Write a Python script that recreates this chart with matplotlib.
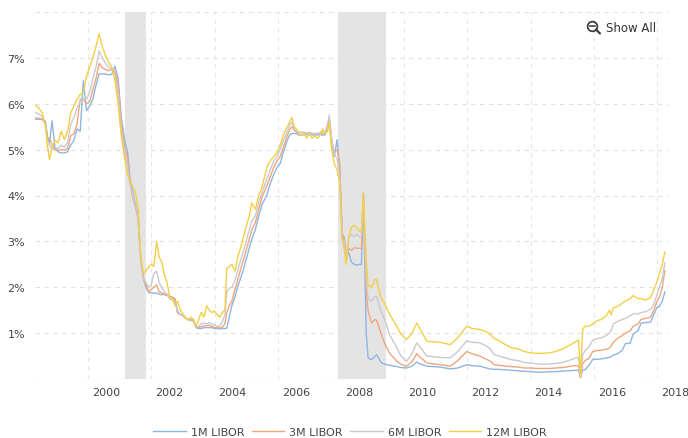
#!/usr/bin/env python3
"""
libor_history.py - 1M/3M/6M/12M USD LIBOR, 1998-2018, with US recessions shaded.

Dates are decimal years; rates in percent. One line per year block so the
series stay lined up with the dates.
"""

import matplotlib.pyplot as plt
from matplotlib.lines import Line2D
from matplotlib.transforms import ScaledTranslation

dates = [
    1998.32, 1998.42, 1998.55, 1998.65, 1998.72, 1998.78, 1998.86, 1998.95,
    1999.05, 1999.15, 1999.25, 1999.35, 1999.45, 1999.55, 1999.65, 1999.75, 1999.85, 1999.95,
    2000.05, 2000.15, 2000.25, 2000.35, 2000.45, 2000.55, 2000.65, 2000.75, 2000.85, 2000.95,
    2001.05, 2001.17, 2001.25, 2001.33, 2001.42, 2001.50, 2001.58, 2001.67, 2001.75, 2001.83, 2001.92,
    2002.00, 2002.08, 2002.17, 2002.25, 2002.33, 2002.42, 2002.50, 2002.58, 2002.67, 2002.75, 2002.83, 2002.92,
    2003.00, 2003.08, 2003.17, 2003.25, 2003.33, 2003.42, 2003.50, 2003.58, 2003.67, 2003.75, 2003.83, 2003.92,
    2004.00, 2004.08, 2004.17, 2004.25, 2004.33, 2004.39, 2004.47, 2004.55, 2004.65, 2004.75, 2004.83, 2004.92,
    2005.02, 2005.10, 2005.18, 2005.29, 2005.40, 2005.50, 2005.65, 2005.76, 2005.87, 2005.97,
    2006.08, 2006.18, 2006.30, 2006.39, 2006.45, 2006.52, 2006.60, 2006.67, 2006.75, 2006.83, 2006.92,
    2007.00, 2007.08, 2007.17, 2007.25, 2007.33, 2007.42, 2007.50, 2007.58, 2007.63, 2007.71, 2007.79, 2007.88, 2007.96,
    2008.04, 2008.10, 2008.17, 2008.25, 2008.33, 2008.42, 2008.50, 2008.58, 2008.65, 2008.71, 2008.80, 2008.86, 2008.97,
    2009.08, 2009.13, 2009.24, 2009.29, 2009.40, 2009.55, 2009.77, 2009.90,
    2010.08, 2010.25, 2010.40, 2010.50, 2010.72,
    2011.14, 2011.46, 2011.70, 2011.98,
    2012.15, 2012.40, 2012.60, 2012.72, 2012.85,
    2013.00, 2013.20, 2013.40, 2013.60, 2013.80,
    2014.00, 2014.20, 2014.40, 2014.60, 2014.80,
    2015.00, 2015.20, 2015.40, 2015.52, 2015.58, 2015.65, 2015.72, 2015.85, 2015.97,
    2016.10, 2016.25, 2016.40, 2016.50, 2016.55, 2016.62, 2016.75, 2016.90,
    2017.00, 2017.15, 2017.25, 2017.40, 2017.50, 2017.65, 2017.80, 2017.90,
    2018.00, 2018.08, 2018.17, 2018.25,
]

libor_1m = [
    5.66, 5.66, 5.66, 5.62, 5.25, 5.15, 5.63, 5.05,
    4.95, 4.93, 4.93, 4.95, 5.10, 5.20, 5.45, 5.40, 6.50, 5.85,
    5.95, 6.10, 6.40, 6.65, 6.65, 6.65, 6.63, 6.64, 6.82, 6.55,
    5.70, 5.15, 4.95, 4.35, 4.05, 3.80, 3.55, 2.60, 2.20, 2.00, 1.88,
    1.88, 1.87, 1.87, 1.85, 1.84, 1.84, 1.82, 1.80, 1.78, 1.75, 1.45, 1.40,
    1.38, 1.33, 1.30, 1.30, 1.30, 1.12, 1.10, 1.10, 1.12, 1.12, 1.12, 1.12,
    1.10, 1.10, 1.09, 1.10, 1.10, 1.11, 1.35, 1.60, 1.80, 2.05, 2.20, 2.40,
    2.65, 2.85, 3.05, 3.25, 3.55, 3.80, 4.00, 4.25, 4.45, 4.60,
    4.70, 4.95, 5.20, 5.33, 5.35, 5.35, 5.35, 5.32, 5.32, 5.32, 5.33,
    5.32, 5.32, 5.32, 5.32, 5.32, 5.32, 5.32, 5.50, 5.60, 5.10, 4.85, 5.22, 4.60,
    3.15, 3.10, 2.70, 2.75, 2.55, 2.50, 2.48, 2.50, 2.50, 4.05, 1.00, 0.46, 0.42,
    0.50, 0.53, 0.40, 0.35, 0.32, 0.30, 0.27, 0.25,
    0.24, 0.28, 0.37, 0.33, 0.28,
    0.26, 0.22, 0.24, 0.31,
    0.29, 0.28, 0.24, 0.22, 0.21,
    0.21, 0.20, 0.19, 0.18, 0.17,
    0.16, 0.15, 0.15, 0.16, 0.16,
    0.17, 0.18, 0.19, 0.19, 0.03, 0.20, 0.20, 0.30, 0.43,
    0.43, 0.44, 0.46, 0.47, 0.49, 0.52, 0.55, 0.62,
    0.77, 0.78, 0.98, 1.05, 1.22, 1.23, 1.24, 1.40,
    1.56, 1.58, 1.70, 1.90,
]

libor_3m = [
    5.69, 5.69, 5.66, 5.56, 5.25, 5.25, 5.10, 5.00,
    4.98, 5.00, 4.99, 5.02, 5.30, 5.35, 5.55, 6.10, 6.10, 6.00,
    6.05, 6.30, 6.55, 6.88, 6.78, 6.75, 6.72, 6.75, 6.70, 6.40,
    5.60, 5.00, 4.80, 4.25, 3.95, 3.75, 3.50, 2.55, 2.20, 2.05, 1.90,
    1.95, 2.00, 2.05, 1.90, 1.88, 1.85, 1.82, 1.80, 1.78, 1.72, 1.45, 1.40,
    1.38, 1.33, 1.30, 1.29, 1.28, 1.12, 1.12, 1.14, 1.16, 1.16, 1.17, 1.15,
    1.12, 1.12, 1.11, 1.13, 1.20, 1.45, 1.60, 1.70, 1.95, 2.20, 2.40, 2.60,
    2.85, 3.05, 3.25, 3.40, 3.70, 3.95, 4.20, 4.40, 4.60, 4.75,
    4.85, 5.05, 5.30, 5.45, 5.50, 5.42, 5.38, 5.37, 5.37, 5.37, 5.36,
    5.36, 5.35, 5.35, 5.35, 5.35, 5.36, 5.36, 5.55, 5.70, 5.20, 4.95, 5.00, 4.70,
    3.10, 3.05, 2.65, 2.85, 2.80, 2.86, 2.85, 2.85, 2.85, 4.05, 1.90, 1.48, 1.22,
    1.30, 1.28, 1.05, 0.95, 0.75, 0.55, 0.39, 0.32,
    0.28, 0.38, 0.55, 0.48, 0.35,
    0.31, 0.28, 0.40, 0.60,
    0.55, 0.50, 0.43, 0.39, 0.31,
    0.30, 0.28, 0.27, 0.26, 0.24,
    0.24, 0.23, 0.23, 0.23, 0.24,
    0.25, 0.27, 0.29, 0.29, 0.03, 0.33, 0.40, 0.45, 0.60,
    0.62, 0.63, 0.65, 0.67, 0.72, 0.80, 0.88, 0.95,
    1.00, 1.05, 1.15, 1.20, 1.30, 1.32, 1.35, 1.50,
    1.69, 1.78, 2.00, 2.36,
]

libor_6m = [
    5.81, 5.78, 5.72, 5.55, 5.15, 5.10, 5.00, 5.05,
    5.02, 5.10, 5.05, 5.15, 5.55, 5.70, 5.90, 6.05, 6.10, 6.10,
    6.25, 6.55, 6.80, 7.15, 7.00, 6.88, 6.80, 6.75, 6.60, 6.20,
    5.45, 4.85, 4.65, 4.25, 4.00, 3.80, 3.50, 2.55, 2.20, 2.10, 2.00,
    2.05, 2.30, 2.35, 2.10, 2.00, 1.90, 1.85, 1.75, 1.72, 1.65, 1.50, 1.40,
    1.38, 1.33, 1.28, 1.28, 1.25, 1.12, 1.15, 1.20, 1.22, 1.20, 1.23, 1.20,
    1.18, 1.15, 1.15, 1.25, 1.40, 1.90, 1.98, 2.00, 2.15, 2.40, 2.60, 2.80,
    3.05, 3.25, 3.45, 3.55, 3.85, 4.05, 4.35, 4.55, 4.75, 4.85,
    5.00, 5.20, 5.40, 5.55, 5.60, 5.45, 5.40, 5.38, 5.38, 5.38, 5.35,
    5.38, 5.35, 5.35, 5.35, 5.37, 5.40, 5.38, 5.50, 5.75, 5.20, 4.90, 4.80, 4.40,
    3.05, 3.00, 2.60, 3.10, 3.15, 3.10, 3.15, 3.10, 3.10, 4.00, 2.20, 1.75, 1.70,
    1.80, 1.80, 1.55, 1.45, 1.26, 0.95, 0.68, 0.50,
    0.39, 0.55, 0.79, 0.70, 0.50,
    0.47, 0.46, 0.60, 0.83,
    0.80, 0.79, 0.72, 0.66, 0.53,
    0.50, 0.46, 0.42, 0.40, 0.36,
    0.35, 0.33, 0.32, 0.33, 0.34,
    0.36, 0.40, 0.45, 0.47, 0.03, 0.52, 0.62, 0.70, 0.85,
    0.88, 0.90, 0.95, 1.00, 1.05, 1.20, 1.25, 1.30,
    1.32, 1.38, 1.42, 1.42, 1.45, 1.47, 1.52, 1.62,
    1.84, 2.00, 2.20, 2.53,
]

libor_12m = [
    5.98, 5.92, 5.80, 5.50, 5.05, 4.78, 5.05, 5.20,
    5.15, 5.40, 5.22, 5.40, 5.80, 5.95, 6.10, 6.20, 6.25, 6.60,
    6.80, 7.00, 7.25, 7.53, 7.25, 7.05, 6.90, 6.80, 6.50, 6.00,
    5.30, 4.75, 4.45, 4.30, 4.20, 4.05, 3.75, 2.65, 2.30, 2.35, 2.45,
    2.50, 2.45, 3.00, 2.65, 2.55, 2.25, 2.10, 1.78, 1.75, 1.60, 1.70, 1.50,
    1.42, 1.35, 1.28, 1.35, 1.30, 1.15, 1.30, 1.45, 1.35, 1.60, 1.50, 1.45,
    1.48, 1.40, 1.35, 1.45, 1.50, 2.42, 2.45, 2.50, 2.35, 2.70, 2.86, 3.10,
    3.37, 3.55, 3.84, 3.70, 4.00, 4.17, 4.60, 4.75, 4.85, 4.93,
    5.10, 5.33, 5.50, 5.62, 5.70, 5.50, 5.44, 5.35, 5.30, 5.35, 5.25,
    5.35, 5.25, 5.30, 5.25, 5.30, 5.45, 5.35, 5.40, 5.60, 5.00, 4.70, 4.55, 4.30,
    3.05, 2.85, 2.50, 3.10, 3.30, 3.35, 3.30, 3.22, 3.20, 4.05, 2.60, 2.05, 1.99,
    2.17, 2.17, 1.84, 1.75, 1.62, 1.40, 1.15, 0.98,
    0.86, 1.00, 1.22, 1.10, 0.82,
    0.80, 0.75, 0.90, 1.15,
    1.10, 1.08, 1.03, 0.98, 0.88,
    0.84, 0.75, 0.68, 0.66, 0.60,
    0.57, 0.56, 0.56, 0.57, 0.60,
    0.65, 0.72, 0.80, 0.85, 0.05, 1.08, 1.15, 1.15, 1.20,
    1.27, 1.30, 1.38, 1.50, 1.40, 1.55, 1.58, 1.65,
    1.70, 1.75, 1.82, 1.75, 1.75, 1.72, 1.78, 1.95,
    2.11, 2.30, 2.50, 2.77,
]

series_names = ["1M LIBOR", "3M LIBOR", "6M LIBOR", "12M LIBOR"]
series_colors = ["#8db6e2", "#f0a67c", "#c9c9d1", "#f4cf45"]

# NBER recessions (start, end) in decimal years
recessions = [(2001.17, 2001.83), (2007.92, 2009.42)]

year_ticks = list(range(2000, 2019, 2))
pct_ticks = [1, 2, 3, 4, 5, 6, 7]


def main():
    series = [libor_1m, libor_3m, libor_6m, libor_12m]
    for s in series:
        assert len(s) == len(dates), (len(s), len(dates))

    fig = plt.figure(figsize=(6.88, 4.39), dpi=100)
    ax = fig.add_axes([35 / 688, 59 / 439, 633 / 688, 367 / 439])

    for start, end in recessions:
        ax.axvspan(start, end, color="#e4e4e4", lw=0, zorder=0)

    for vals, name, col in zip(series, series_names, series_colors):
        ax.plot(dates, vals, color=col, lw=1.0, label=name, zorder=3)

    ax.set_xlim(1998.32, 2018.35)
    ax.set_ylim(0, 8)

    # dashed grid, darker baseline at 0%
    for y in pct_ticks + [8]:
        ax.axhline(y, color="#e2e2e2", lw=0.8, ls=(0, (4, 4)), zorder=1)
    ax.axhline(0, color="#b0b0b0", lw=0.8, ls=(0, (4, 4)), zorder=1)
    for x in year_ticks:
        ax.axvline(x, color="#e6e6e6", lw=0.8, ls=(0, (4, 4)), zorder=1)

    for side in ax.spines.values():
        side.set_visible(False)
    ax.tick_params(length=0, labelsize=8, labelcolor="#444444")
    ax.set_yticks(pct_ticks)
    ax.set_yticklabels([f"{p}%" for p in pct_ticks])
    ax.tick_params(axis="y", pad=7)
    ax.set_xticks(year_ticks)
    ax.set_xticklabels([str(y) for y in year_ticks])
    ax.tick_params(axis="x", pad=6)

    # year labels sit a little to the right of their gridline
    shift = ScaledTranslation(18 / 100, 0, fig.dpi_scale_trans)
    for lab in ax.get_xticklabels():
        lab.set_transform(lab.get_transform() + shift)

    fig.legend(loc="center", bbox_to_anchor=(350 / 688, 1 - 433 / 439),
               ncol=4, frameon=False, fontsize=8, labelcolor="#444444",
               handlelength=2.9, handletextpad=0.45, columnspacing=0.7)

    # zoom reset button: magnifier with a minus sign, then the label
    W, H = 688, 439
    fig.add_artist(Line2D([592 / W], [1 - 26.5 / H], marker="o", ms=7.0,
                          mfc="none", mec="#333333", mew=1.2,
                          transform=fig.transFigure))
    fig.add_artist(Line2D([589.5 / W, 594.5 / W], [1 - 26.5 / H] * 2,
                          color="#333333", lw=1.1, transform=fig.transFigure))
    fig.add_artist(Line2D([596 / W, 600 / W], [1 - 30.5 / H, 1 - 34.5 / H],
                          color="#333333", lw=1.5, solid_capstyle="round",
                          transform=fig.transFigure))
    fig.text(606 / W, 1 - 28 / H, "Show All", fontsize=8.5,
             color="#333333", va="center", ha="left")

    fig.savefig("out.png", dpi=100)


if __name__ == "__main__":
    main()
